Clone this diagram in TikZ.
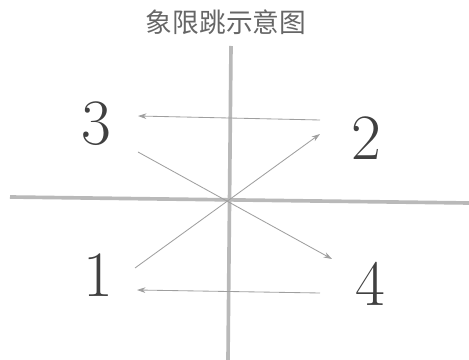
\documentclass[tikz,border=0pt]{standalone}
\usepackage{fontspec}
\newfontfamily\cjk{Noto Sans CJK SC}
\usetikzlibrary{arrows.meta}

\begin{document}
\begin{tikzpicture}[x=0.025cm, y=-0.025cm,
  axis/.style={line width=2.6pt, draw=gray!55},
  jump/.style={line width=0.6pt, draw=gray!75, -{Stealth[length=6pt, width=4pt]}},
  quad/.style={font=\fontsize{46}{50}\selectfont, text=black!75}]
  \useasboundingbox (0,0) rectangle (469,360);

  % title
  \node[font=\cjk\fontsize{19}{21}\selectfont, text=black!60] (title) at (226,22) {象限跳示意图};

  % axes
  \draw[axis] (231,46) -- (228,360);
  \draw[axis] (10,197) -- (469,203);

  % quadrant labels
  \node[quad] (n3) at (96,124) {3};
  \node[quad] (n2) at (366,138) {2};
  \node[quad] (n1) at (98,275) {1};
  \node[quad] (n4) at (370,284) {4};

  % end points of the jumps
  \coordinate (a3) at (138,116);
  \coordinate (a2) at (320,120);
  \coordinate (b2) at (320,134);
  \coordinate (b1) at (135,268);
  \coordinate (c3) at (138,152);
  \coordinate (c4) at (332,259);
  \coordinate (d1) at (137,290);
  \coordinate (d4) at (320,293);

  \draw[jump] (a2) -- (a3);
  \draw[jump] (b1) -- (b2);
  \draw[jump] (c3) -- (c4);
  \draw[jump] (d4) -- (d1);
\end{tikzpicture}
\end{document}
